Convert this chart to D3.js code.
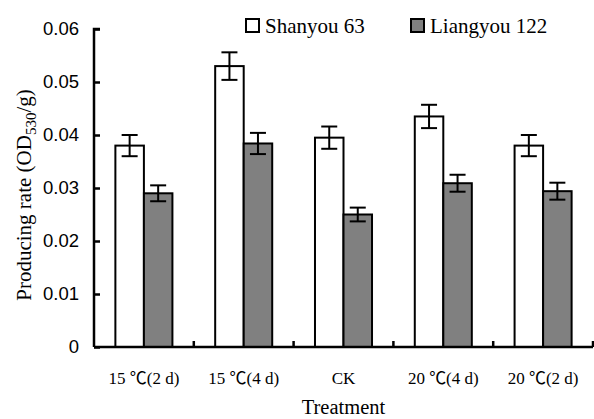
<!DOCTYPE html>
<html><head><meta charset="utf-8">
<script src="https://cdn.jsdelivr.net/npm/d3@7"></script>
<style>
html,body{margin:0;padding:0;background:#fff;}
svg{display:block;}
</style></head>
<body>
<svg id="chart" width="594" height="419"></svg>
<script>
const categories = ["15 \u2103(2 d)", "15 \u2103(4 d)", "CK", "20 \u2103(4 d)", "20 \u2103(2 d)"];
const seriesNames = ["Shanyou 63", "Liangyou 122"];
const shanyouValues = [0.038, 0.053, 0.0395, 0.0435, 0.038];
const shanyouErrors = [0.002, 0.0026, 0.0021, 0.0022, 0.002];
const liangyouValues = [0.029, 0.0384, 0.025, 0.0309, 0.0294];
const liangyouErrors = [0.0015, 0.002, 0.0013, 0.0016, 0.0016];
const yTicks = [0, 0.01, 0.02, 0.03, 0.04, 0.05, 0.06];
const fills = ["#ffffff", "#808080"];

const svg = d3.select("#chart");
const plotLeft = 94, plotRight = 593, plotTop = 29, plotBottom = 347;
const serif = "'Liberation Serif','Times New Roman',serif";
const serifCjk = "'Liberation Serif','Noto Sans CJK SC',serif";
const sans = "'Liberation Sans',Arial,sans-serif";

const x = d3.scaleBand().domain(categories).range([plotLeft, plotRight]).padding(0);
const x1 = d3.scaleBand().domain(seriesNames).range([0, x.bandwidth()]).paddingInner(0).paddingOuter(0.75);
const y = d3.scaleLinear().domain([0, 0.06]).range([plotBottom, plotTop]);

const data = [];
categories.forEach((c, i) => {
  data.push({cat: c, s: seriesNames[0], v: shanyouValues[i], e: shanyouErrors[i], f: fills[0]});
  data.push({cat: c, s: seriesNames[1], v: liangyouValues[i], e: liangyouErrors[i], f: fills[1]});
});

// bars
svg.append("g").selectAll("rect").data(data).join("rect")
  .attr("x", d => x(d.cat) + x1(d.s))
  .attr("y", d => y(d.v))
  .attr("width", x1.bandwidth())
  .attr("height", d => y(0) - y(d.v))
  .attr("fill", d => d.f)
  .attr("stroke", "#000")
  .attr("stroke-width", 2);

// error bars
const eg = svg.append("g").attr("stroke", "#000").attr("stroke-width", 2);
data.forEach(d => {
  const cx = x(d.cat) + x1(d.s) + x1.bandwidth() / 2;
  eg.append("line").attr("x1", cx).attr("x2", cx).attr("y1", y(d.v + d.e)).attr("y2", y(d.v - d.e));
  eg.append("line").attr("x1", cx - 8).attr("x2", cx + 8).attr("y1", y(d.v + d.e)).attr("y2", y(d.v + d.e));
  eg.append("line").attr("x1", cx - 8).attr("x2", cx + 8).attr("y1", y(d.v - d.e)).attr("y2", y(d.v - d.e));
});

// y axis
const yAxis = d3.axisRight(y).tickValues(yTicks).tickSize(6).tickFormat(d => d === 0 ? "0" : d3.format(".2f")(d));
const ya = svg.append("g").attr("transform", `translate(${plotLeft},0)`).call(yAxis);
ya.select(".domain").attr("d", `M6,${plotTop}H0V${plotBottom}`).attr("stroke", "#000").attr("stroke-width", 2.5);
ya.selectAll(".tick line").attr("stroke", "#000").attr("stroke-width", 2.5);
ya.selectAll(".tick text").attr("x", -15).attr("text-anchor", "end")
  .attr("font-family", sans).attr("font-size", 18.5).attr("fill", "#000");

// x axis
const xa = svg.append("g").attr("transform", `translate(0,${plotBottom})`);
xa.append("line").attr("x1", plotLeft).attr("x2", plotRight).attr("y1", 0).attr("y2", 0)
  .attr("stroke", "#000").attr("stroke-width", 2.5);
const edges = categories.map(c => x(c)).concat([x(categories[categories.length - 1]) + x.bandwidth()]);
xa.selectAll("line.tk").data(edges.slice(1)).join("line").attr("class", "tk")
  .attr("x1", d => d).attr("x2", d => d).attr("y1", 0).attr("y2", -6)
  .attr("stroke", "#000").attr("stroke-width", 2.5);
xa.selectAll("text").data(categories).join("text")
  .attr("x", d => x(d) + x.bandwidth() / 2).attr("y", 37)
  .attr("text-anchor", "middle").attr("font-family", serifCjk).attr("font-size", 17).attr("fill", "#000")
  .text(d => d);

// axis titles
svg.append("text").attr("x", (plotLeft + plotRight) / 2).attr("y", 414).attr("text-anchor", "middle")
  .attr("font-family", serif).attr("font-size", 20.5).text("Treatment");

const yt = svg.append("text").attr("transform", "translate(31,195) rotate(-90)")
  .attr("text-anchor", "middle").attr("font-family", serif).attr("font-size", 21);
yt.append("tspan").text("Producing rate (OD");
yt.append("tspan").attr("font-size", 15).attr("dy", 5).text("530");
yt.append("tspan").attr("dy", -5).text("/g)");

// legend
const legendX = [246, 411];
seriesNames.forEach((s, i) => {
  const g = svg.append("g").attr("transform", `translate(${legendX[i]},19)`);
  g.append("rect").attr("x", 0).attr("y", 0).attr("width", 13).attr("height", 13)
    .attr("fill", fills[i]).attr("stroke", "#000").attr("stroke-width", 2);
  g.append("text").attr("x", 19).attr("y", 14).attr("font-family", serif).attr("font-size", 21)
    .attr("fill", "#000").text(s);
});
</script>
</body></html>
